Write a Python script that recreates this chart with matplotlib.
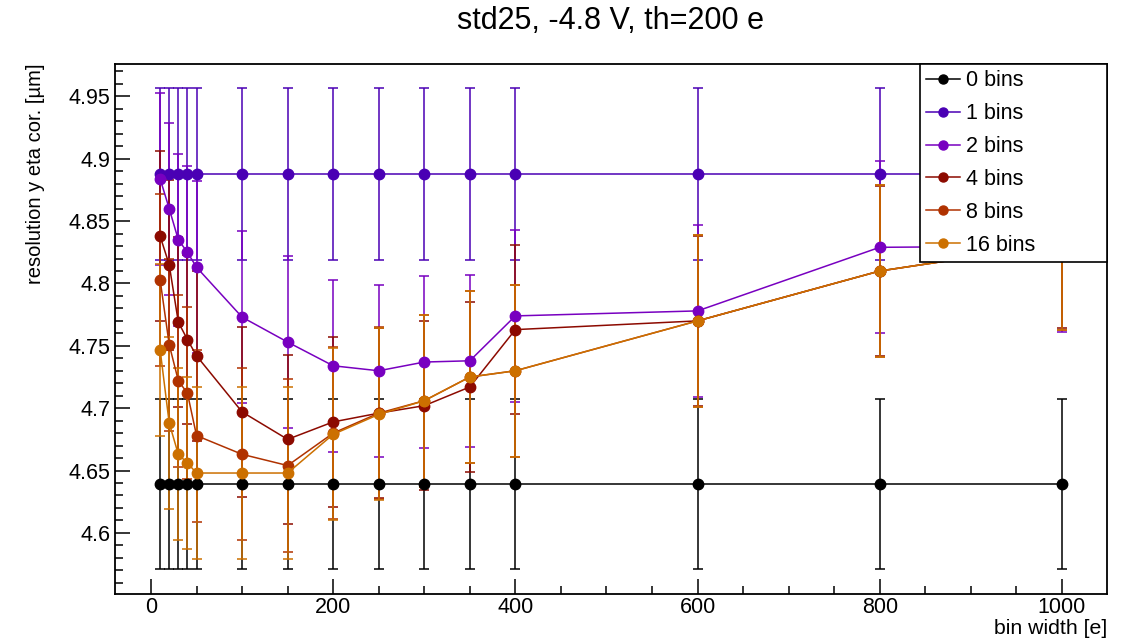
import matplotlib
matplotlib.use("Agg")
import matplotlib.pyplot as plt
from matplotlib.ticker import MultipleLocator, FuncFormatter
from matplotlib.lines import Line2D
import numpy as np

plt.rcParams['font.family'] = ['Liberation Sans', 'DejaVu Sans']

# bin widths [e]
bin_width = [10, 20, 30, 40, 50, 100, 150, 200, 250, 300, 350, 400, 600, 800, 1000]

# resolution per number of bins
res_0 = [4.639] * 15
res_1 = [4.888] * 15
res_2 = [4.884, 4.860, 4.835, 4.825, 4.813, 4.773, 4.753, 4.734, 4.730, 4.737, 4.738, 4.774, 4.778, 4.829, 4.830]
res_4 = [4.838, 4.815, 4.769, 4.755, 4.742, 4.697, 4.675, 4.689, 4.696, 4.702, 4.717, 4.763, 4.770, 4.810, 4.832]
res_8 = [4.803, 4.751, 4.722, 4.712, 4.678, 4.663, 4.654, 4.680, 4.696, 4.706, 4.725, 4.730, 4.770, 4.810, 4.832]
res_16 = [4.747, 4.688, 4.663, 4.656, 4.648, 4.648, 4.648, 4.679, 4.695, 4.706, 4.725, 4.730, 4.770, 4.810, 4.832]

errors = [0.068, 0.069, 0.069, 0.068, 0.069, 0.069]
labels = ["0 bins", "1 bins", "2 bins", "4 bins", "8 bins", "16 bins"]
colors = ["#000000", "#4a00b4", "#7800c0", "#8c0a00", "#b03200", "#cc7000"]
series = [res_0, res_1, res_2, res_4, res_8, res_16]

fig = plt.figure(figsize=(11.21, 6.4), dpi=100)
ax = fig.add_axes([0.1026, 0.0719, 0.8849, 0.8281])

handles = []
for y, e, c, lab in zip(series, errors, colors, labels):
    ax.errorbar(bin_width, y, yerr=e, color=c, marker='o', markersize=7.5,
                linewidth=1.1, elinewidth=1.1, capsize=3.5, capthick=1.1)
    handles.append(Line2D([], [], color=c, marker='o', markersize=6.5,
                          linewidth=1.1, label=lab))

ax.set_xlim(-39.5, 1049.5)
ax.set_ylim(4.551, 4.976)

ax.xaxis.set_major_locator(MultipleLocator(200))
ax.xaxis.set_minor_locator(MultipleLocator(50))
ax.yaxis.set_major_locator(MultipleLocator(0.05))
ax.yaxis.set_minor_locator(MultipleLocator(0.01))
ax.yaxis.set_major_formatter(FuncFormatter(lambda v, p: "%g" % round(v, 3)))

ax.tick_params(which='both', direction='in', top=False, right=False, labelsize=15.5)
ax.tick_params(axis='x', pad=2)
ax.tick_params(which='major', length=11, width=1.1)
ax.tick_params(which='minor', length=6, width=1.1)
for s in ax.spines.values():
    s.set_linewidth(1.3)

ax.set_xlabel("bin width [e]", fontsize=15.3, loc='right')
ax.xaxis.set_label_coords(1.0, -0.047)
ax.set_ylabel("resolution y eta cor. [µm]", fontsize=14.5, loc='top')
ax.yaxis.set_label_coords(-0.071, 1.0)

fig.text(0.545, 0.967, "std25, -4.8 V, th=200 e", fontsize=22, ha='center', va='center')

leg = ax.legend(handles=handles, bbox_to_anchor=(0.8115, 0.626, 0.1885, 0.374),
                loc='upper left', mode='expand', borderaxespad=0, fontsize=15.5,
                frameon=True, fancybox=False, edgecolor='black', framealpha=1,
                handlelength=1.58, handletextpad=0.25, labelspacing=0.55,
                borderpad=0.3)
leg.get_frame().set_linewidth(1.2)

fig.savefig("out.png", dpi=100)
